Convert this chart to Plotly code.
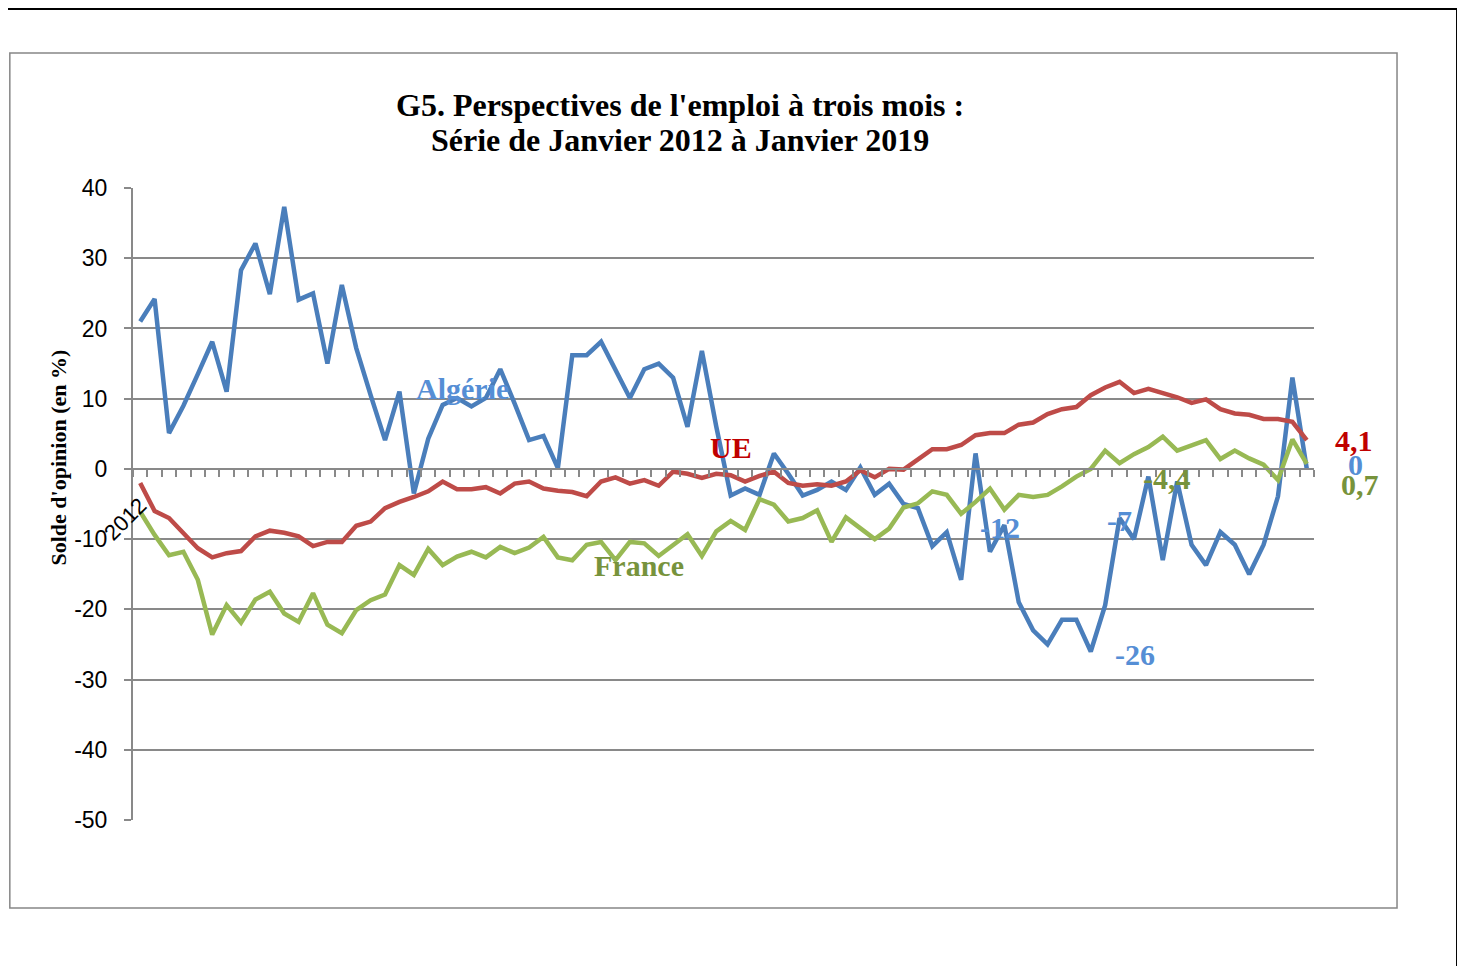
import plotly.graph_objects as go

periodes = [f"{2012 + m // 12}-{m % 12 + 1:02d}" for m in range(82)]

algerie = [21, 24.2, 5.1, 9, 13.5, 18.1, 11, 28.3, 32.1, 24.9,
           37.3, 24.1, 25, 15, 26.2, 17.2, 10.5, 4.1, 11, -3.5,
           4.3, 9.1, 10.1, 8.9, 10.1, 14.2, 9.3, 4.1, 4.7, 0.1,
           16.2, 16.2, 18.1, 14, 10.1, 14.2, 15, 13, 6, 16.8,
           6, -3.8, -2.8, -3.7, 2.2, -0.7, -3.8, -3, -1.8, -3,
           0.2, -3.7, -2.1, -5, -5.6, -11, -9, -15.8, 2.2, -11.8,
           -8, -19, -23, -25, -21.5, -21.5, -26, -19.4, -7, -10,
           -1.1, -13, -1.8, -10.8, -13.7, -9, -10.8, -15, -10.8, -3.9,
           13, 0]

ue = [-2, -6, -7, -9.2, -11.3, -12.6, -12, -11.7, -9.6, -8.8,
      -9.1, -9.6, -11, -10.4, -10.4, -8.1, -7.5, -5.6, -4.7, -4,
      -3.2, -1.8, -2.9, -2.9, -2.6, -3.5, -2.1, -1.8, -2.8, -3.1,
      -3.3, -3.9, -1.8, -1.2, -2.1, -1.6, -2.4, -0.4, -0.7, -1.3,
      -0.7, -0.9, -1.8, -1, -0.4, -2, -2.4, -2.2, -2.4, -1.8,
      -0.2, -1.2, 0, -0.1, 1.3, 2.8, 2.8, 3.4, 4.8, 5.1,
      5.1, 6.3, 6.6, 7.8, 8.5, 8.8, 10.5, 11.6, 12.4, 10.8,
      11.4, 10.8, 10.2, 9.4, 9.9, 8.5, 7.9, 7.7, 7.1, 7.1,
      6.7, 4.1]

france = [-6.1, -9.4, -12.3, -11.8, -15.8, -23.6, -19.4, -21.9, -18.6, -17.5,
          -20.6, -21.8, -17.7, -22.2, -23.4, -20.1, -18.7, -17.9, -13.7, -15.1,
          -11.4, -13.7, -12.5, -11.8, -12.6, -11.1, -12, -11.2, -9.7, -12.6,
          -13, -10.8, -10.4, -13, -10.4, -10.6, -12.4, -10.8, -9.3, -12.4,
          -8.9, -7.4, -8.7, -4.3, -5.1, -7.5, -7, -5.9, -10.4, -6.9,
          -8.5, -10, -8.5, -5.5, -4.9, -3.2, -3.7, -6.4, -4.7, -2.8,
          -5.8, -3.7, -4, -3.7, -2.5, -1.1, 0, 2.6, 0.8, 2.1,
          3.1, 4.6, 2.6, 3.4, 4.1, 1.4, 2.6, 1.5, 0.6, -1.6,
          4.2, 0.7]

etiquettes_x = ["2012"] + [""] * (len(periodes) - 1)
graduations_y = [-50, -40, -30, -20, -10, 0, 10, 20, 30, 40]
textes_y = ["-50", "-40", "-30", "-20", "-10", "0", "10", "20", "30", "40"]

# étiquettes posées sur le graphique : (texte, position x en rang, y, couleur)
etiquettes = [
    ("Algérie", 22.4, 11.5, "#558ED5"),
    ("UE", 41.0, 3.0, "#C00000"),
    ("France", 34.6, -13.8, "#77933C"),
    ("-12", 59.7, -8.3, "#558ED5"),
    ("-7", 68.0, -7.4, "#558ED5"),
    ("-26", 69.1, -26.4, "#558ED5"),
    ("-4,4", 71.3, -1.3, "#77933C"),
]
# dernières valeurs, écrites à droite du dernier point : (texte, série, couleur, décalage x, décalage y)
dernieres = [
    ("4,1", ue, "#C00000", 47, 0),
    ("0", algerie, "#558ED5", 49, -4),
    ("0,7", france, "#77933C", 53, 21),
]

GRIS = "#898989"
SERIF = "Liberation Serif, Times New Roman, serif"

fig = go.Figure()
for nom, valeurs, couleur in [("Algérie", algerie, "#4A7EBB"),
                              ("UE", ue, "#BE4B48"),
                              ("France", france, "#98B954")]:
    fig.add_trace(go.Scatter(x=periodes, y=valeurs, mode="lines", name=nom,
                             line=dict(color=couleur, width=4.5)))

for texte, x, y, couleur in etiquettes:
    fig.add_annotation(x=x, y=y, xref="x", yref="y", text=f"<b>{texte}</b>",
                       showarrow=False, xanchor="center", yanchor="middle",
                       font=dict(family=SERIF, size=30, color=couleur))

for texte, serie, couleur, dx, dy in dernieres:
    fig.add_annotation(x=periodes[-1], y=serie[-1], xref="x", yref="y",
                       text=f"<b>{texte}</b>", showarrow=True,
                       arrowcolor="rgba(0,0,0,0)", ax=dx, ay=dy,
                       font=dict(family=SERIF, size=30, color=couleur))

# titre sur deux lignes
fig.add_annotation(x=0.4632, y=1.1313, xref="paper", yref="paper", showarrow=False,
                   xanchor="center", yanchor="middle",
                   text="<b>G5. Perspectives de l'emploi à trois mois :</b>",
                   font=dict(family=SERIF, size=32, color="black"))
fig.add_annotation(x=0.4632, y=1.0759, xref="paper", yref="paper", showarrow=False,
                   xanchor="center", yanchor="middle",
                   text="<b>Série de Janvier 2012 à Janvier 2019</b>",
                   font=dict(family=SERIF, size=32, color="black"))
# titre de l'axe des ordonnées
fig.add_annotation(x=-0.0635, y=0.5736, xref="paper", yref="paper", showarrow=False,
                   xanchor="center", yanchor="middle",
                   textangle=-90, text="<b>Solde d'opinion (en %)</b>",
                   font=dict(family=SERIF, size=22, color="black"))

# cadres
fig.add_shape(type="rect", xref="paper", yref="paper", x0=-0.1043, x1=1.0703,
              y0=-0.1392, y1=1.2136, line=dict(color="#868686", width=1.5))
fig.add_shape(type="line", xref="paper", yref="paper", x0=-0.12, x1=1.1211,
              y0=1.2832, y1=1.2832, line=dict(color="black", width=2))
fig.add_shape(type="line", xref="paper", yref="paper", x0=1.1211, x1=1.1211,
              y0=1.2832, y1=-0.25, line=dict(color="black", width=2))

fig.update_layout(
    width=1457, height=958,
    margin=dict(l=125, r=151, t=180, b=146),
    paper_bgcolor="white", plot_bgcolor="white",
    showlegend=False,
    font=dict(family="Liberation Sans, Arial, sans-serif", color="black"),
)
fig.update_xaxes(
    type="category", range=[-0.5, len(periodes) - 0.5],
    tickmode="array", tickvals=periodes, ticktext=etiquettes_x,
    tickson="boundaries", tickangle=-45, tickfont=dict(size=22),
    ticklabelstandoff=14,
    anchor="free", position=50 / 90,
    showline=True, linecolor=GRIS, linewidth=2,
    ticks="outside", ticklen=7, tickwidth=2, tickcolor=GRIS,
    showgrid=False, zeroline=False,
)
fig.update_yaxes(
    range=[-50, 40], tickmode="array", tickvals=graduations_y, ticktext=textes_y,
    tickfont=dict(size=23),
    showline=True, linecolor=GRIS, linewidth=2,
    ticks="outside", ticklen=7, tickwidth=2, tickcolor=GRIS,
    showgrid=True, gridcolor=GRIS, gridwidth=2, zeroline=False,
    ticklabelstandoff=12,
)

fig.write_html("out.html")
